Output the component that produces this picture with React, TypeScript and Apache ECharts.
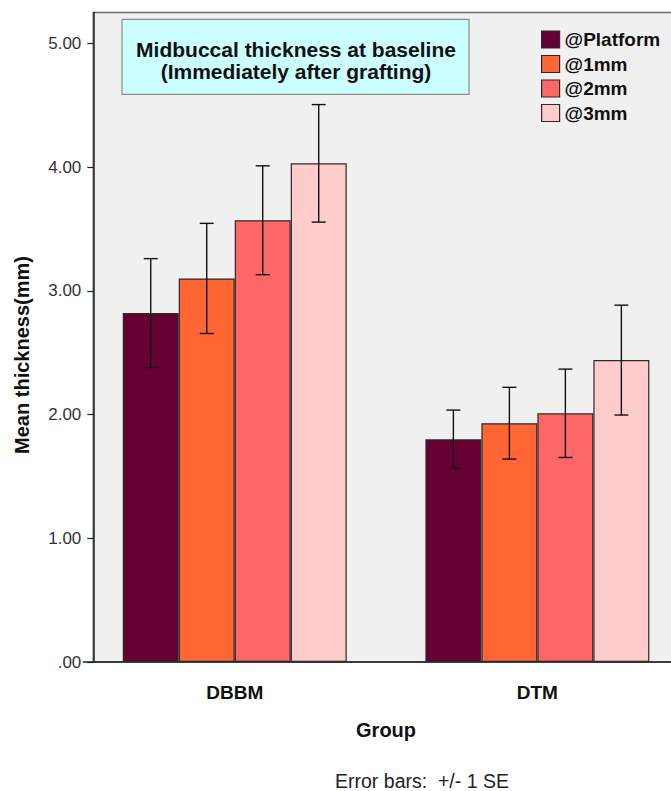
import React, { useEffect, useRef } from "react";
import * as echarts from "echarts";

// Groups on the x axis
const categories = ["DBBM", "DTM"];
// Measurement levels (one bar series each)
const seriesNames = ["@Platform", "@1mm", "@2mm", "@3mm"];
const seriesColors = ["#660033", "#FF6633", "#FF6666", "#FFCCCC"];

// Mean midbuccal thickness (mm) per group, one array per level
const platformMean = [2.82, 1.8];
const mm1Mean = [3.1, 1.93];
const mm2Mean = [3.57, 2.01];
const mm3Mean = [4.03, 2.44];

// Standard errors (mm)
const platformSE = [0.44, 0.236];
const mm1SE = [0.445, 0.29];
const mm2SE = [0.44, 0.357];
const mm3SE = [0.475, 0.444];

const yTicks = [0, 1, 2, 3, 4, 5];

const FONT = "'Liberation Sans', Arial, Helvetica, sans-serif";
const CATEGORY_GAP = 0.26;

export default function App() {
  const ref = useRef<HTMLDivElement>(null);

  useEffect(() => {
    if (!ref.current) return;
    const chart = echarts.init(ref.current, undefined, { renderer: "svg" });

    const means = [platformMean, mm1Mean, mm2Mean, mm3Mean];
    const ses = [platformSE, mm1SE, mm2SE, mm3SE];
    const nSeries = means.length;

    const errorData: number[][] = [];
    means.forEach((m, s) => {
      m.forEach((v, i) => {
        errorData.push([i, v - ses[s][i], v + ses[s][i], s]);
      });
    });

    const barSeries = means.map((m, s) => ({
      name: seriesNames[s],
      type: "bar",
      data: m,
      barGap: "0%",
      barCategoryGap: `${CATEGORY_GAP * 100}%`,
      itemStyle: {
        color: seriesColors[s],
        borderColor: "#2a2a2a",
        borderWidth: 1.2,
      },
      z: 2,
    }));

    const option: any = {
      animation: false,
      grid: {
        left: 83.4,
        top: 12.4,
        width: 605.3,
        height: 649.6,
        containLabel: false,
      },
      legend: {
        orient: "vertical",
        left: 536,
        top: 25,
        itemWidth: 18,
        itemHeight: 17,
        itemGap: 5.5,
        icon: "rect",
        data: seriesNames,
        textStyle: {
          fontFamily: FONT,
          fontSize: 19,
          fontWeight: "bold",
          color: "#111",
          lineHeight: 19,
        },
        itemStyle: { borderColor: "#2a2a2a", borderWidth: 1.2 },
      },
      xAxis: {
        type: "category",
        data: categories,
        axisLine: { lineStyle: { color: "#222", width: 1.5 } },
        axisTick: {
          alignWithLabel: true,
          length: 15,
          lineStyle: { color: "#222", width: 1.2 },
        },
        axisLabel: {
          margin: 21,
          fontFamily: FONT,
          fontSize: 19,
          fontWeight: "bold",
          color: "#111",
        },
        name: "Group",
        nameLocation: "middle",
        nameGap: 58,
        nameTextStyle: {
          fontFamily: FONT,
          fontSize: 20,
          fontWeight: "bold",
          color: "#111",
        },
      },
      yAxis: {
        type: "value",
        min: 0,
        max: 5.25,
        interval: 1,
        offset: -9.9,
        splitLine: { show: false },
        axisLine: { show: true, lineStyle: { color: "#222", width: 1.5 } },
        axisTick: {
          show: true,
          length: 6,
          customValues: yTicks,
          lineStyle: { color: "#222", width: 1.2 },
        },
        axisLabel: {
          margin: 12,
          customValues: yTicks,
          fontFamily: FONT,
          fontSize: 17,
          color: "#333",
          formatter: (v: number) => (v === 0 ? ".00" : v.toFixed(2)),
        },
      },
      graphic: [
        {
          type: "rect",
          z: -10,
          shape: { x: 93.3, y: 12.4, width: 620, height: 649.6 },
          style: { fill: "#F0F0F0", stroke: "#6a6a6a", lineWidth: 1.5 },
        },
        {
          type: "rect",
          z: 5,
          shape: { x: 122, y: 19.3, width: 347, height: 75 },
          style: { fill: "#CCFFFF", stroke: "#8a8a8a", lineWidth: 1.2 },
        },
        {
          type: "text",
          z: 6,
          x: 296,
          y: 60.5,
          style: {
            text: "Midbuccal thickness at baseline\n(Immediately after grafting)",
            fontFamily: FONT,
            fontSize: 21,
            fontWeight: "bold",
            lineHeight: 22,
            fill: "#111",
            align: "center",
            verticalAlign: "middle",
          },
        },
        {
          type: "text",
          z: 6,
          x: 22,
          y: 355,
          rotation: Math.PI / 2,
          style: {
            text: "Mean thickness(mm)",
            fontFamily: FONT,
            fontSize: 20,
            fontWeight: "bold",
            fill: "#111",
            align: "center",
            verticalAlign: "middle",
          },
        },
        {
          type: "text",
          z: 6,
          x: 422,
          y: 781,
          style: {
            text: "Error bars:  +/- 1 SE",
            fontFamily: FONT,
            fontSize: 19.5,
            fill: "#222",
            align: "center",
            verticalAlign: "middle",
          },
        },
      ],
      series: [
        ...barSeries,
        {
          type: "custom",
          name: "SE",
          z: 4,
          data: errorData,
          encode: { x: 0, y: [1, 2] },
          renderItem: (_params: any, api: any) => {
            const cat = api.value(0);
            const lo = api.value(1);
            const hi = api.value(2);
            const s = api.value(3);
            const band = api.size([1, 0])[0];
            const bw = (band * (1 - CATEGORY_GAP)) / nSeries;
            const cx =
              api.coord([cat, 0])[0] -
              (band * (1 - CATEGORY_GAP)) / 2 +
              bw * (s + 0.5);
            const yHi = api.coord([cat, hi])[1];
            const yLo = api.coord([cat, lo])[1];
            const cap = 7;
            const style = { stroke: "#111", lineWidth: 1.4 };
            return {
              type: "group",
              children: [
                { type: "line", shape: { x1: cx, y1: yHi, x2: cx, y2: yLo }, style },
                { type: "line", shape: { x1: cx - cap, y1: yHi, x2: cx + cap, y2: yHi }, style },
                { type: "line", shape: { x1: cx - cap, y1: yLo, x2: cx + cap, y2: yLo }, style },
              ],
            };
          },
        },
      ],
    };

    chart.setOption(option);
    return () => chart.dispose();
  }, []);

  // The plot area runs past the right edge of the visible frame, so the
  // chart canvas is wider than the frame and clipped by it.
  return (
    <div
      style={{
        position: "absolute",
        left: 0,
        top: 0,
        width: 671,
        height: 791,
        overflow: "hidden",
        background: "#fff",
      }}
    >
      <div ref={ref} style={{ width: 720, height: 791 }} />
    </div>
  );
}
